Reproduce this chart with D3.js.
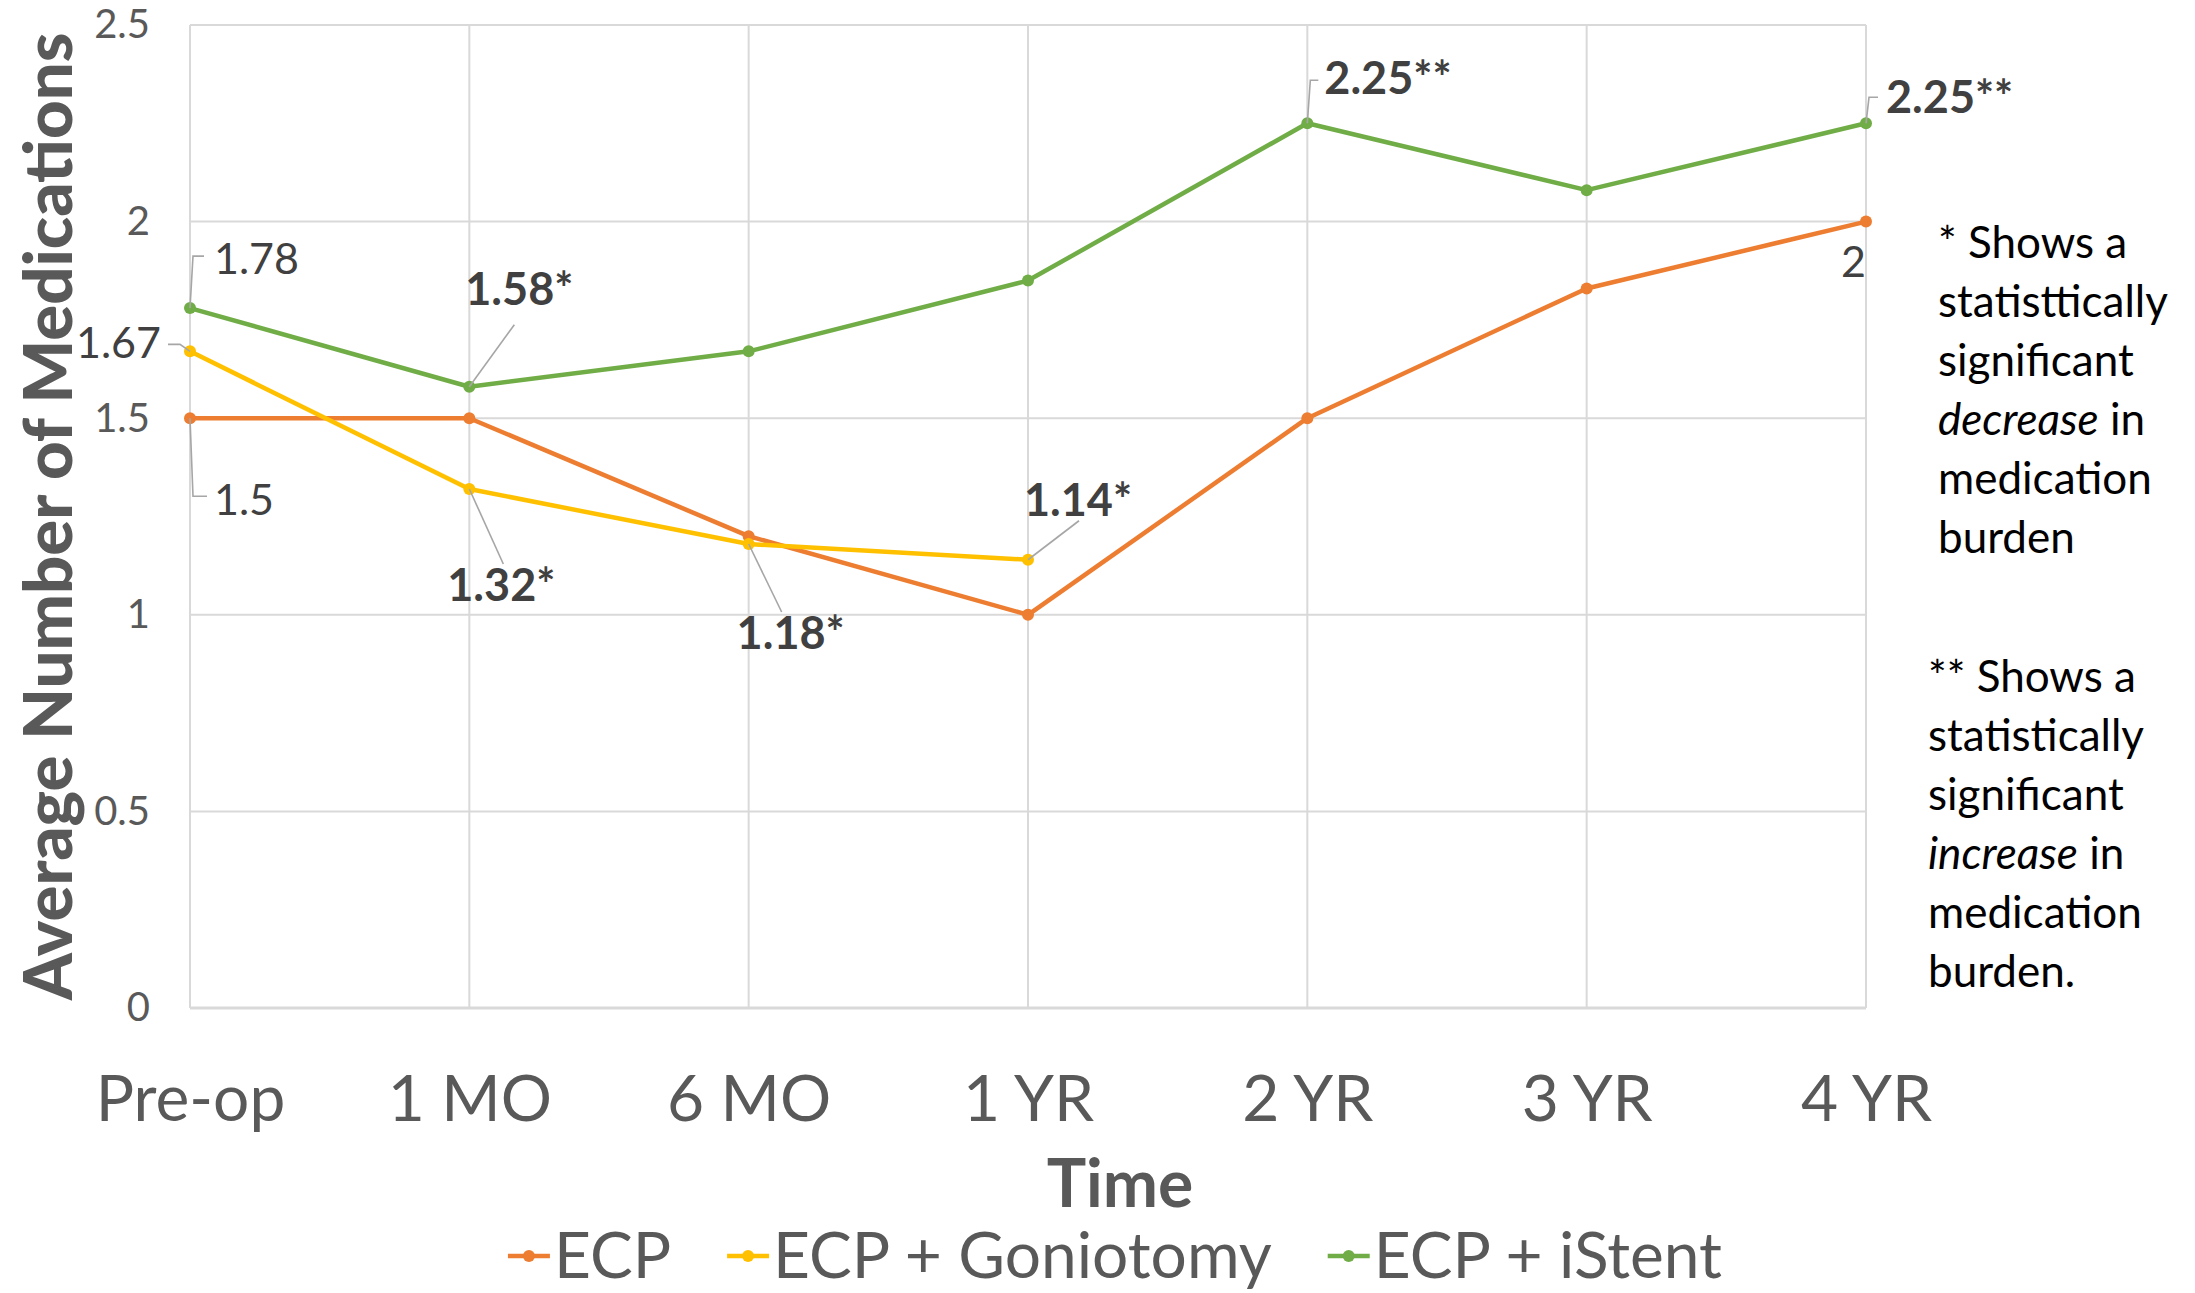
<!DOCTYPE html>
<html>
<head>
<meta charset="utf-8">
<script src="https://cdn.jsdelivr.net/npm/d3@7"></script>
<style>
  html, body { margin: 0; padding: 0; background: #fff; }
  svg { display: block; font-family: Lato, "Open Sans", sans-serif; }
</style>
</head>
<body>
<svg id="chart" width="2195" height="1293"></svg>
<script>
// Follow-up time points and average medication counts per surgical group
const categories = ["Pre-op", "1 MO", "6 MO", "1 YR", "2 YR", "3 YR", "4 YR"];
const ecpValues = [1.5, 1.5, 1.2, 1.0, 1.5, 1.83, 2.0];
const goniotomyValues = [1.67, 1.32, 1.18, 1.14, null, null, null];
const istentValues = [1.78, 1.58, 1.67, 1.85, 2.25, 2.08, 2.25];
const yTickValues = [0, 0.5, 1, 1.5, 2, 2.5];
const seriesNames = ["ECP", "ECP + Goniotomy", "ECP + iStent"];

// Significance markers attached to labelled points
const labelledPoints = [
  { series: 2, index: 0, suffix: "" },
  { series: 1, index: 0, suffix: "" },
  { series: 0, index: 0, suffix: "" },
  { series: 2, index: 1, suffix: "*" },
  { series: 1, index: 1, suffix: "*" },
  { series: 1, index: 2, suffix: "*" },
  { series: 1, index: 3, suffix: "*" },
  { series: 2, index: 4, suffix: "**" },
  { series: 2, index: 6, suffix: "**" },
  { series: 0, index: 6, suffix: "" }
];

const noteDecrease = [["* Shows a"], ["statisttically"], ["significant"], ["decrease", " in"], ["medication"], ["burden"]];
const noteIncrease = [["** Shows a"], ["statistically"], ["significant"], ["increase", " in"], ["medication"], ["burden."]];

// ---- layout ----
const colors = ["#ED7D31", "#FFC000", "#70AD47"];
const plot = { left: 190, right: 1866, top: 25, bottom: 1008 };
const series = [ecpValues, goniotomyValues, istentValues];

// label placement relative to each point: text offset, anchor, leader path offsets
const labelLayout = [
  { dx: 24, dy: -49, anchor: "start", bold: false, leader: [[0, 0], [3, -52], [14, -52]] },
  { dx: -29, dy: -8, anchor: "end", bold: false, leader: [[0, 0], [-10, -7], [-22, -7]] },
  { dx: 24, dy: 82, anchor: "start", bold: false, leader: [[0, 0], [3, 78], [17, 78]] },
  { dx: 50, dy: -97, anchor: "middle", bold: true, leader: [[0, 0], [45, -62]] },
  { dx: 32, dy: 96, anchor: "middle", bold: true, leader: [[0, 0], [34, 75]] },
  { dx: 42, dy: 89, anchor: "middle", bold: true, leader: [[0, 0], [33, 68]] },
  { dx: 50, dy: -60, anchor: "middle", bold: true, leader: [[0, 0], [51, -39]] },
  { dx: 17, dy: -45, anchor: "start", bold: true, leader: [[0, 0], [3, -43], [11, -43]] },
  { dx: 20, dy: -26, anchor: "start", bold: true, leader: [[0, 0], [3, -26], [12, -26]] },
  { dx: 0, dy: 40, anchor: "end", bold: false, leader: null }
];

const svg = d3.select("#chart");

const x = d3.scalePoint().domain(categories).range([plot.left, plot.right]);
const y = d3.scaleLinear().domain([0, 2.5]).range([plot.bottom, plot.top]);

// gridlines
const grid = svg.append("g").attr("class", "grid");
grid.selectAll("line.h").data(yTickValues).join("line")
  .attr("class", "h")
  .attr("x1", plot.left).attr("x2", plot.right)
  .attr("y1", d => y(d)).attr("y2", d => y(d))
  .attr("stroke", "#D9D9D9").attr("stroke-width", d => d === 0 ? 3 : 2);
grid.selectAll("line.v").data(categories).join("line")
  .attr("class", "v")
  .attr("x1", d => x(d)).attr("x2", d => x(d))
  .attr("y1", plot.top).attr("y2", plot.bottom)
  .attr("stroke", "#D9D9D9").attr("stroke-width", 2);

// y axis ticks
const yAxis = d3.axisLeft(y).tickValues(yTickValues).tickSize(0).tickPadding(40)
  .tickFormat(d3.format("~g"));
const yg = svg.append("g").attr("transform", `translate(${plot.left},0)`).call(yAxis);
yg.select(".domain").remove();
yg.selectAll("text").attr("font-family", "Lato").attr("font-size", 40).attr("fill", "#595959");

// x axis ticks
const xAxis = d3.axisBottom(x).tickSize(0).tickPadding(68);
const xg = svg.append("g").attr("transform", `translate(0,${plot.bottom})`).call(xAxis);
xg.select(".domain").remove();
xg.selectAll("text").attr("font-family", "Lato").attr("font-size", 64).attr("fill", "#595959");

// axis titles
svg.append("text")
  .attr("transform", `translate(72,${(plot.top + plot.bottom) / 2 + 0}) rotate(-90)`)
  .attr("text-anchor", "middle")
  .attr("font-size", 67).attr("font-weight", 900).attr("fill", "#595959")
  .text("Average Number of Medications");

svg.append("text")
  .attr("x", 1120).attr("y", 1207)
  .attr("text-anchor", "middle")
  .attr("font-size", 66).attr("font-weight", 700).attr("fill", "#595959")
  .text("Time");

// series lines and markers
const line = d3.line()
  .defined(d => d.v !== null)
  .x(d => x(d.c)).y(d => y(d.v));

series.forEach((vals, si) => {
  const pts = vals.map((v, i) => ({ c: categories[i], v }));
  svg.append("path")
    .datum(pts)
    .attr("d", line)
    .attr("fill", "none")
    .attr("stroke", colors[si])
    .attr("stroke-width", 4.5)
    .attr("stroke-linejoin", "round");
  svg.append("g").selectAll("circle")
    .data(pts.filter(d => d.v !== null)).join("circle")
    .attr("cx", d => x(d.c)).attr("cy", d => y(d.v))
    .attr("r", 6).attr("fill", colors[si]);
});

// data labels with leader lines
const lg = svg.append("g");
labelledPoints.forEach((p, k) => {
  const L = labelLayout[k];
  const v = series[p.series][p.index];
  const px = x(categories[p.index]);
  const py = y(v);
  if (L.leader) {
    lg.append("path")
      .attr("d", d3.line()(L.leader.map(o => [px + o[0], py + o[1]])))
      .attr("fill", "none").attr("stroke", "#A6A6A6").attr("stroke-width", 1.6);
  }
  lg.append("text")
    .attr("x", px + L.dx).attr("y", py + L.dy)
    .attr("dy", "0.35em")
    .attr("text-anchor", L.anchor)
    .attr("font-size", L.bold ? 45 : 43)
    .attr("font-weight", L.bold ? 700 : 400)
    .attr("fill", "#404040")
    .text(d3.format("~g")(v) + p.suffix);
});

// significance notes
function drawNote(lines, x0, y0, step) {
  const t = svg.append("text").attr("font-size", 44).attr("fill", "#000");
  lines.forEach((parts, i) => {
    parts.forEach((part, j) => {
      const ts = t.append("tspan").text(part);
      if (j === 0) ts.attr("x", x0).attr("y", y0 + i * step);
      if (parts.length > 1 && j === 0) ts.attr("font-style", "italic");
    });
  });
}
drawNote(noteDecrease, 1938, 258, 59);
drawNote(noteIncrease, 1928, 692, 59);

// legend
const legend = svg.append("g");
const legendY = 1256;
const itemGap = 56, symW = 42, symGap = 4;
let cursor = 0;
seriesNames.forEach((name, i) => {
  const g = legend.append("g");
  g.append("line").attr("x1", 0).attr("x2", symW).attr("y1", 0).attr("y2", 0)
    .attr("stroke", colors[i]).attr("stroke-width", 4.5);
  g.append("circle").attr("cx", symW / 2).attr("cy", 0).attr("r", 6).attr("fill", colors[i]);
  const t = g.append("text").attr("x", symW + symGap).attr("y", 0).attr("dy", "0.35em")
    .attr("font-size", 64).attr("fill", "#595959").text(name);
  const w = symW + symGap + t.node().getComputedTextLength();
  g.attr("transform", `translate(${cursor},${legendY})`);
  cursor += w + itemGap;
});
const totalW = cursor - itemGap;
legend.attr("transform", `translate(${1115 - totalW / 2},0)`);
</script>
</body>
</html>
